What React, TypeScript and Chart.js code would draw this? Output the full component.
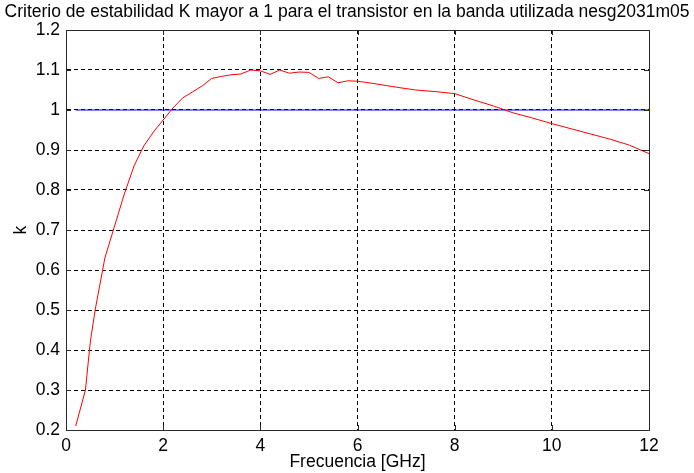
import React, { useEffect, useRef } from "react";
import { Chart, registerables } from "chart.js";

Chart.register(...registerables);

const titleText =
  "Criterio de estabilidad K mayor a 1 para el transistor en la banda utilizada nesg2031m05";
const xTitle = "Frecuencia [GHz]";
const yTitle = "k";

const freqGHz = [
  0.2, 0.4, 0.5, 0.6, 0.8, 1.0, 1.2, 1.4, 1.6, 1.8, 2.0, 2.2, 2.4, 2.6, 2.8, 3.0,
  3.2, 3.4, 3.6, 3.8, 4.0, 4.2, 4.4, 4.6, 4.8, 5.0, 5.2, 5.4, 5.6, 5.8, 6.0, 6.4,
  6.8, 7.2, 7.6, 8.0, 8.4, 8.8, 9.2, 9.6, 10.0, 10.4, 10.8, 11.2, 11.6, 12.0,
];
const kValues = [
  0.21, 0.3, 0.42, 0.5, 0.63, 0.71, 0.79, 0.86, 0.91, 0.945, 0.975, 1.005, 1.03,
  1.045, 1.06, 1.079, 1.084, 1.088, 1.09, 1.1, 1.098, 1.089, 1.1, 1.092, 1.095,
  1.094, 1.079, 1.083, 1.068, 1.073, 1.072, 1.065, 1.057, 1.05, 1.046, 1.041,
  1.025, 1.01, 0.993, 0.98, 0.966, 0.953, 0.94, 0.927, 0.912, 0.891,
];
const thresholdFreq = [0.2, 12];
const thresholdK = [1, 1];

const xTicks = [0, 2, 4, 6, 8, 10, 12];
const yTicks = [0.2, 0.3, 0.4, 0.5, 0.6, 0.7, 0.8, 0.9, 1, 1.1, 1.2];

const FONT = "'Liberation Sans', Arial, Helvetica, sans-serif";
const FS = 17.5;

const boxPlugin = {
  id: "matlabBox",
  afterDatasetsDraw(chart: any) {
    const { ctx, chartArea, scales } = chart;
    const { left, right, top, bottom } = chartArea;
    ctx.save();
    ctx.strokeStyle = "#2a2a2a";
    ctx.lineWidth = 1;
    ctx.setLineDash([]);
    const tl = 5;
    ctx.beginPath();
    for (const v of xTicks) {
      const x = Math.round(scales.x.getPixelForValue(v)) + 0.5;
      ctx.moveTo(x, bottom);
      ctx.lineTo(x, bottom - tl);
      ctx.moveTo(x, top);
      ctx.lineTo(x, top + tl);
    }
    for (const v of yTicks) {
      const y = Math.round(scales.y.getPixelForValue(v)) + 0.5;
      ctx.moveTo(left, y);
      ctx.lineTo(left + tl, y);
      ctx.moveTo(right, y);
      ctx.lineTo(right - tl, y);
    }
    ctx.stroke();
    ctx.strokeRect(
      Math.round(left) + 0.5,
      Math.round(top) + 0.5,
      Math.round(right - left),
      Math.round(bottom - top)
    );
    ctx.restore();
  },
};

export default function App() {
  const ref = useRef<HTMLCanvasElement | null>(null);
  useEffect(() => {
    if (!ref.current) return;
    const chart = new Chart(ref.current, {
      type: "line",
      data: {
        datasets: [
          {
            data: freqGHz.map((f, i) => ({ x: f, y: kValues[i] })),
            borderColor: "#ff0000",
            borderWidth: 1,
            pointRadius: 0,
            tension: 0,
            fill: false,
          },
          {
            data: thresholdFreq.map((f, i) => ({ x: f, y: thresholdK[i] })),
            borderColor: "#0000ff",
            borderWidth: 1,
            pointRadius: 0,
            fill: false,
          },
        ],
      },
      options: {
        animation: false,
        responsive: false,
        devicePixelRatio: 1,
        layout: { padding: 0 },
        plugins: {
          legend: { display: false },
          tooltip: { enabled: false },
          title: {
            display: true,
            text: titleText,
            color: "#000",
            font: { family: FONT, size: FS, weight: "normal" },
            padding: { top: 2, bottom: 7 },
          },
        },
        scales: {
          x: {
            type: "linear",
            min: 0,
            max: 12,
            afterBuildTicks: (scale: any) => {
              scale.ticks = xTicks.map((v) => ({ value: v }));
            },
            afterFit: (scale: any) => {
              scale.height = 43;
            },
            ticks: {
              color: "#000",
              font: { family: FONT, size: FS },
              padding: 6,
              maxRotation: 0,
              autoSkip: false,
              callback: (v: any) => String(v),
            },
            grid: {
              color: "#000",
              lineWidth: 1,
              drawTicks: false,
            },
            border: { display: true, color: "#2a2a2a", dash: [4, 3] },
            title: {
              display: true,
              text: xTitle,
              color: "#000",
              font: { family: FONT, size: FS },
              padding: { top: 0, bottom: 0 },
            },
          },
          y: {
            type: "linear",
            position: "left",
            min: 0.2,
            max: 1.2,
            afterBuildTicks: (scale: any) => {
              scale.ticks = yTicks.map((v) => ({ value: v }));
            },
            afterFit: (scale: any) => {
              scale.width = 66;
            },
            ticks: {
              color: "#000",
              font: { family: FONT, size: FS },
              padding: 6,
              autoSkip: false,
              callback: (v: any) => String(Math.round(Number(v) * 10) / 10),
            },
            grid: {
              color: "#000",
              lineWidth: 1,
              drawTicks: false,
            },
            border: { display: true, color: "#2a2a2a", dash: [4, 3] },
            title: {
              display: true,
              text: yTitle,
              color: "#000",
              font: { family: FONT, size: FS },
              padding: { top: 11, bottom: 0 },
            },
          },
          yRightSpace: {
            type: "linear",
            position: "right",
            min: 0.2,
            max: 1.2,
            display: true,
            afterFit: (scale: any) => {
              scale.width = 45;
            },
            ticks: { display: false },
            grid: { display: false, drawTicks: false },
            border: { display: false },
          },
        },
      },
      plugins: [boxPlugin],
    });
    return () => chart.destroy();
  }, []);
  return (
    <div style={{ position: "fixed", left: 0, top: 0, width: 694, height: 473, background: "#fff" }}>
      <canvas ref={ref} width={694} height={473} style={{ display: "block" }} />
    </div>
  );
}
